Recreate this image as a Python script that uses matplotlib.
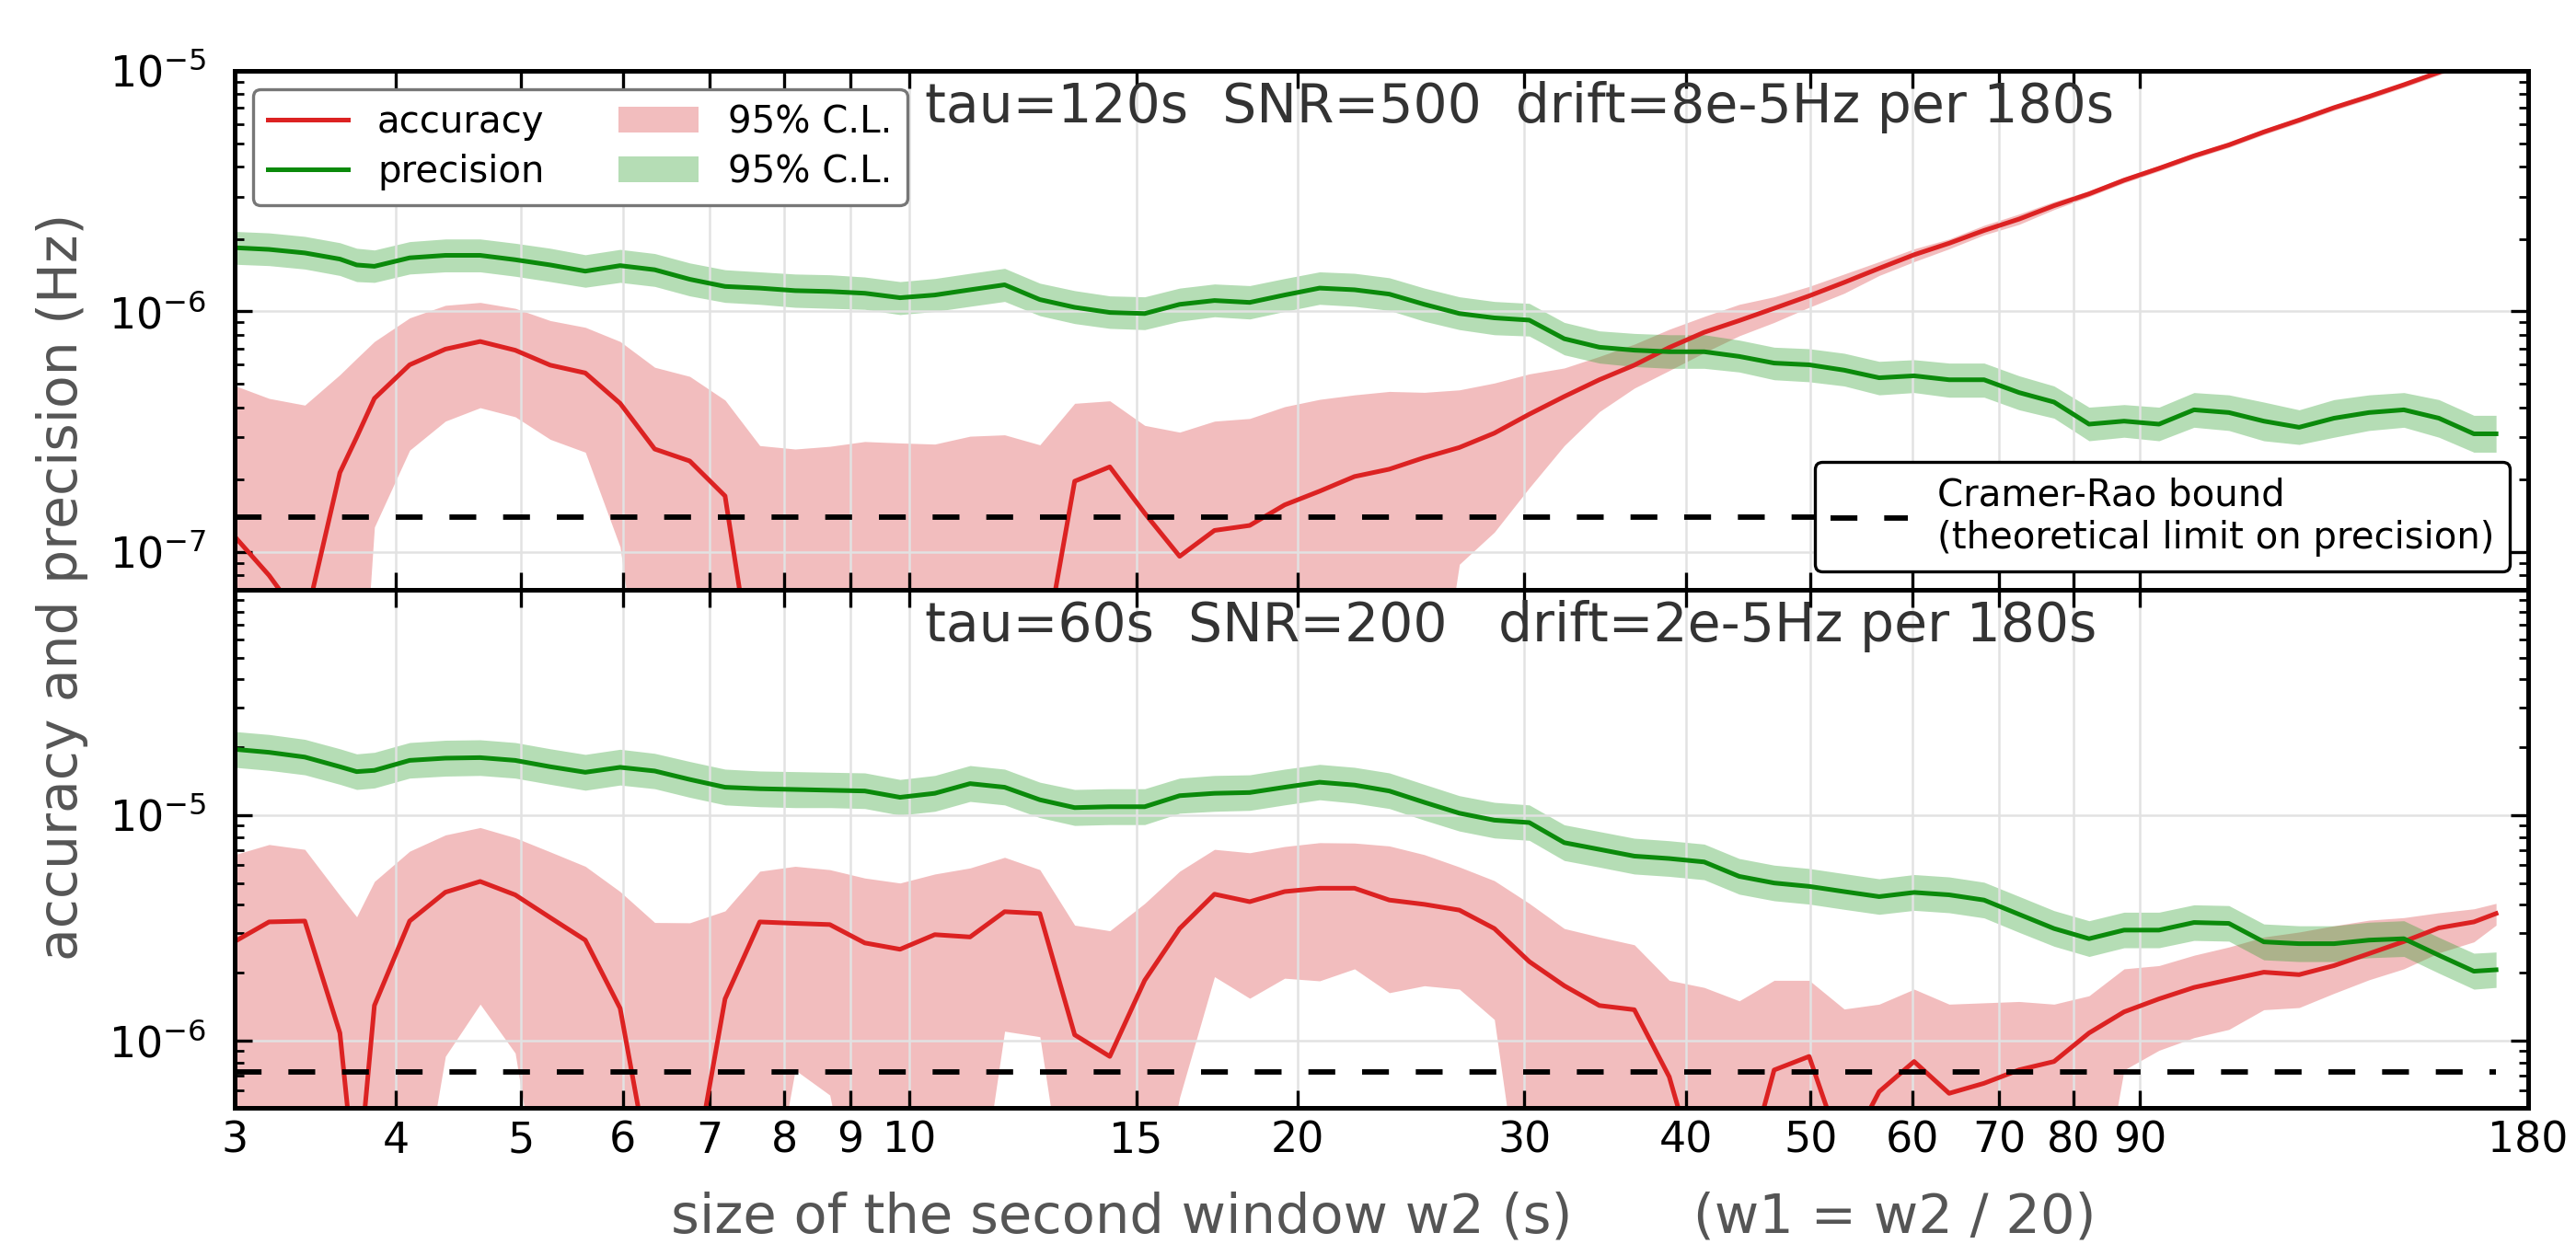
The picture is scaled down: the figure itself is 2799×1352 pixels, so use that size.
import matplotlib.pyplot as plt
from matplotlib.lines import Line2D
from matplotlib.patches import Patch
from matplotlib.ticker import FixedLocator, NullLocator, FixedFormatter

plt.rcParams['font.family'] = 'DejaVu Sans'
plt.rcParams['mathtext.fontset'] = 'dejavusans'

# size of the second window w2 (s)
w2 = [3.00, 3.19, 3.40, 3.62, 3.73, 3.85, 4.10, 4.37, 4.65, 4.95, 5.27, 5.61,
      5.97, 6.35, 6.76, 7.20, 7.66, 8.16, 8.68, 9.24, 9.84, 10.47, 11.15,
      11.86, 12.63, 13.44, 14.31, 15.23, 16.21, 17.25, 18.37, 19.55, 20.81,
      22.15, 23.57, 25.09, 26.71, 28.43, 30.26, 32.21, 34.29, 36.50, 38.85,
      41.35, 44.02, 46.85, 49.87, 53.09, 56.51, 60.15, 64.03, 68.15, 72.55,
      77.22, 82.20, 87.50, 93.13, 99.14, 105.5, 112.3, 119.6, 127.3, 135.5,
      144.2, 153.5, 163.4, 170.0]

# ---- top panel: tau=120s, SNR=500 (values in 1e-6 Hz) ----
acc_top = [0.116, 0.080, 0.050, 0.214, 0.300, 0.435, 0.600, 0.697, 0.750, 0.690,
           0.598, 0.555, 0.415, 0.268, 0.239, 0.171, 0.02, 0.02, 0.02, 0.02,
           0.02, 0.02, 0.02, 0.02, 0.03, 0.197, 0.226, 0.145, 0.096, 0.123,
           0.129, 0.157, 0.179, 0.206, 0.221, 0.247, 0.272, 0.312, 0.374, 0.443,
           0.520, 0.598, 0.708, 0.819, 0.916, 1.03, 1.16, 1.32, 1.51, 1.72,
           1.92, 2.17, 2.42, 2.75, 3.08, 3.51, 3.93, 4.43, 4.92, 5.57, 6.24,
           7.03, 7.82, 8.75, 9.86, 11.1, 12.1]
acc_top_hi = [0.492, 0.435, 0.408, 0.546, 0.638, 0.750, 0.94, 1.06, 1.09, 1.03,
              0.916, 0.859, 0.750, 0.586, 0.537, 0.428, 0.277, 0.268, 0.275,
              0.288, 0.284, 0.281, 0.303, 0.307, 0.279, 0.415, 0.425, 0.336,
              0.315, 0.350, 0.359, 0.402, 0.431, 0.450, 0.465, 0.461, 0.472,
              0.504, 0.550, 0.582, 0.650, 0.731, 0.843, 0.953, 1.07, 1.15, 1.27,
              1.43, 1.61, 1.82, 2.00, 2.28, 2.54, 2.86, 3.17, 3.61, 4.04, 4.55,
              5.05, 5.72, 6.40, 7.20, 8.00, 8.97, 10.1, 11.4, 12.4]
acc_top_lo = [0.01, 0.01, 0.01, 0.01, 0.01, 0.127, 0.265, 0.350, 0.398, 0.365,
              0.294, 0.260, 0.105, 0.01, 0.01, 0.01, 0.01, 0.01, 0.01, 0.01,
              0.01, 0.01, 0.01, 0.01, 0.01, 0.01, 0.01, 0.01, 0.01, 0.01, 0.01,
              0.01, 0.01, 0.01, 0.01, 0.01, 0.089, 0.121, 0.185, 0.277, 0.383,
              0.480, 0.568, 0.674, 0.792, 0.900, 1.04, 1.19, 1.41, 1.61, 1.82,
              2.08, 2.30, 2.65, 3.00, 3.42, 3.83, 4.32, 4.80, 5.43, 6.08, 6.85,
              7.62, 8.53, 9.60, 10.8, 11.8]
prec_top = [1.84, 1.81, 1.75, 1.65, 1.56, 1.54, 1.67, 1.71, 1.71, 1.64, 1.56,
            1.47, 1.55, 1.49, 1.36, 1.27, 1.25, 1.22, 1.21, 1.19, 1.14, 1.17,
            1.23, 1.29, 1.12, 1.04, 0.99, 0.98, 1.07, 1.11, 1.09, 1.17, 1.25,
            1.23, 1.18, 1.07, 0.98, 0.94, 0.92, 0.77, 0.71, 0.69, 0.68, 0.68,
            0.65, 0.61, 0.60, 0.57, 0.53, 0.54, 0.52, 0.52, 0.46, 0.42, 0.34,
            0.35, 0.34, 0.39, 0.38, 0.35, 0.33, 0.36, 0.38, 0.39, 0.36, 0.31,
            0.31]
prec_top_hi = [2.15, 2.12, 2.05, 1.93, 1.83, 1.80, 1.95, 2.00, 2.00, 1.92, 1.83,
               1.72, 1.81, 1.74, 1.59, 1.49, 1.46, 1.43, 1.42, 1.39, 1.33, 1.37,
               1.44, 1.51, 1.31, 1.22, 1.16, 1.15, 1.25, 1.30, 1.28, 1.37, 1.46,
               1.44, 1.38, 1.25, 1.15, 1.10, 1.08, 0.90, 0.83, 0.81, 0.80, 0.80,
               0.76, 0.71, 0.70, 0.67, 0.62, 0.63, 0.61, 0.61, 0.54, 0.49, 0.40,
               0.41, 0.40, 0.46, 0.45, 0.42, 0.39, 0.43, 0.45, 0.46, 0.43, 0.37,
               0.37]
prec_top_lo = [1.57, 1.55, 1.50, 1.41, 1.33, 1.32, 1.43, 1.46, 1.46, 1.40, 1.33,
               1.26, 1.32, 1.27, 1.16, 1.09, 1.07, 1.04, 1.03, 1.02, 0.97, 1.00,
               1.05, 1.10, 0.96, 0.89, 0.85, 0.84, 0.91, 0.95, 0.93, 1.00, 1.07,
               1.05, 1.01, 0.91, 0.84, 0.80, 0.79, 0.66, 0.61, 0.59, 0.58, 0.58,
               0.56, 0.52, 0.51, 0.49, 0.45, 0.46, 0.44, 0.44, 0.39, 0.36, 0.29,
               0.30, 0.29, 0.33, 0.32, 0.29, 0.28, 0.30, 0.32, 0.33, 0.30, 0.26,
               0.26]
cr_top = 0.14

# ---- bottom panel: tau=60s, SNR=200 (values in 1e-6 Hz) ----
acc_bot = [2.75, 3.36, 3.39, 1.08, 0.2, 1.43, 3.39, 4.55, 5.08, 4.43, 3.51, 2.79,
           1.39, 0.2, 0.2, 1.53, 3.36, 3.31, 3.27, 2.71, 2.54, 2.95, 2.88, 3.73,
           3.66, 1.06, 0.85, 1.85, 3.14, 4.46, 4.13, 4.58, 4.74, 4.74, 4.20,
           4.02, 3.79, 3.14, 2.24, 1.75, 1.43, 1.37, 0.69, 0.2, 0.2, 0.74, 0.85,
           0.3, 0.593, 0.807, 0.583, 0.646, 0.741, 0.807, 1.08, 1.34, 1.53, 1.72,
           1.86, 2.01, 1.96, 2.15, 2.43, 2.75, 3.16, 3.36, 3.66]
acc_bot_hi = [6.68, 7.41, 7.05, 4.40, 3.54, 5.08, 6.92, 8.17, 8.81, 7.94, 6.87,
              5.93, 4.58, 3.34, 3.33, 3.76, 5.64, 5.93, 5.73, 5.26, 5.00, 5.48,
              5.83, 6.50, 5.73, 3.25, 3.07, 4.06, 5.64, 7.05, 6.81, 7.26, 7.55,
              7.52, 7.30, 6.68, 5.89, 5.12, 4.06, 3.14, 2.88, 2.66, 1.85, 1.72,
              1.50, 1.85, 1.85, 1.38, 1.45, 1.69, 1.45, 1.47, 1.49, 1.45, 1.58,
              2.08, 2.15, 2.39, 2.60, 2.88, 3.03, 3.23, 3.42, 3.51, 3.69, 3.84,
              4.06]
acc_bot_lo = [0.1, 0.1, 0.1, 0.1, 0.1, 0.1, 0.1, 0.851, 1.45, 0.88, 0.1, 0.1,
              0.1, 0.1, 0.1, 0.1, 0.1, 0.74, 0.573, 0.1, 0.1, 0.1, 0.1, 1.10,
              1.04, 0.1, 0.1, 0.1, 0.56, 1.92, 1.54, 1.89, 1.84, 2.08, 1.63, 1.75,
              1.69, 1.24, 0.1, 0.1, 0.1, 0.1, 0.1, 0.1, 0.1, 0.1, 0.1, 0.1, 0.1,
              0.1, 0.1, 0.1, 0.1, 0.1, 0.1, 0.74, 0.905, 1.03, 1.12, 1.37, 1.40,
              1.62, 1.86, 2.08, 2.45, 2.74, 3.25]
prec_bot = [19.6, 19.0, 18.1, 16.4, 15.6, 15.8, 17.5, 17.9, 18.0, 17.5, 16.4,
            15.5, 16.3, 15.7, 14.4, 13.3, 13.1, 13.0, 12.9, 12.8, 12.0, 12.5,
            13.8, 13.3, 11.7, 10.8, 10.9, 10.9, 12.2, 12.5, 12.6, 13.3, 14.0,
            13.6, 12.8, 11.4, 10.2, 9.50, 9.27, 7.55, 7.05, 6.58, 6.42, 6.20,
            5.35, 5.00, 4.83, 4.58, 4.35, 4.54, 4.43, 4.20, 3.63, 3.14, 2.83,
            3.09, 3.09, 3.34, 3.31, 2.74, 2.69, 2.69, 2.79, 2.83, 2.39, 2.03,
            2.06]
prec_bot_hi = [23.5, 22.8, 21.7, 19.7, 18.7, 19.0, 21.0, 21.5, 21.6, 21.0, 19.7,
               18.6, 19.6, 18.8, 17.3, 16.0, 15.7, 15.6, 15.5, 15.4, 14.4, 15.0,
               16.6, 16.0, 14.0, 13.0, 13.1, 13.1, 14.6, 15.0, 15.1, 16.0, 16.8,
               16.3, 15.4, 13.7, 12.2, 11.4, 11.1, 9.06, 8.46, 7.90, 7.70, 7.44,
               6.42, 6.00, 5.80, 5.50, 5.22, 5.45, 5.32, 5.04, 4.36, 3.77, 3.40,
               3.71, 3.71, 4.00, 3.97, 3.29, 3.23, 3.23, 3.35, 3.40, 2.87, 2.44,
               2.47]
prec_bot_lo = [16.3, 15.8, 15.1, 13.7, 13.0, 13.2, 14.6, 14.9, 15.0, 14.6, 13.7,
               12.9, 13.6, 13.1, 12.0, 11.1, 10.9, 10.8, 10.8, 10.7, 10.0, 10.4,
               11.5, 11.1, 9.75, 9.00, 9.08, 9.08, 10.2, 10.4, 10.5, 11.1, 11.7,
               11.3, 10.7, 9.50, 8.50, 7.92, 7.73, 6.29, 5.88, 5.48, 5.35, 5.17,
               4.46, 4.17, 4.03, 3.82, 3.63, 3.78, 3.69, 3.50, 3.02, 2.62, 2.36,
               2.58, 2.58, 2.78, 2.76, 2.28, 2.24, 2.24, 2.33, 2.36, 1.99, 1.69,
               1.72]
cr_bot = 0.726

xticks = [3, 4, 5, 6, 7, 8, 9, 10, 15, 20, 30, 40, 50, 60, 70, 80, 90, 180]

RED = '#dc2222'
RED_FILL = '#d62728'
GREEN = '#0b8a0b'
GREEN_FILL = '#2ca02c'
U = 1e-6

fig = plt.figure(figsize=(13.995, 6.76), dpi=200)
ax_top = fig.add_axes([0.0911, 0.5259, 0.8903, 0.4172])
ax_bot = fig.add_axes([0.0911, 0.1095, 0.8903, 0.4164])

panels = [
    (ax_top, acc_top, acc_top_lo, acc_top_hi, prec_top, prec_top_lo, prec_top_hi,
     cr_top, (6.97e-8, 1e-5), [1e-7, 1e-6, 1e-5],
     'tau=120s  SNR=500  drift=8e-5Hz per 180s'),
    (ax_bot, acc_bot, acc_bot_lo, acc_bot_hi, prec_bot, prec_bot_lo, prec_bot_hi,
     cr_bot, (5.03e-7, 1e-4), [1e-6, 1e-5],
     'tau=60s  SNR=200   drift=2e-5Hz per 180s'),
]

for ax, acc, alo, ahi, prec, plo, phi, cr, ylim, yt, title in panels:
    ax.fill_between(w2, [v * U for v in alo], [v * U for v in ahi],
                    color=RED_FILL, alpha=0.3, lw=0)
    ax.fill_between(w2, [v * U for v in plo], [v * U for v in phi],
                    color=GREEN_FILL, alpha=0.35, lw=0)
    ax.plot(w2, [v * U for v in acc], color=RED, lw=1.8)
    ax.plot(w2, [v * U for v in prec], color=GREEN, lw=1.8)
    ax.plot([w2[0], w2[-1]], [cr * U, cr * U], color='black', lw=2.1,
            dashes=(5, 5))
    ax.set_xscale('log')
    ax.set_yscale('log')
    ax.set_xlim(3, 180)
    ax.set_ylim(*ylim)
    ax.xaxis.set_major_locator(FixedLocator(xticks))
    ax.xaxis.set_major_formatter(FixedFormatter([str(t) for t in xticks]))
    ax.xaxis.set_minor_locator(NullLocator())
    ax.yaxis.set_major_locator(FixedLocator(yt))
    ax.grid(True, which='major', color='#e2e2e2', lw=0.9)
    ax.tick_params(which='both', direction='in', top=True, right=True)
    ax.tick_params(which='major', length=7, width=1.2)
    ax.tick_params(which='minor', length=3.5, width=1.0)
    ax.tick_params(axis='y', labelsize=16.5, pad=11)
    ax.tick_params(axis='x', labelsize=16.5, pad=5)
    for s in ax.spines.values():
        s.set_linewidth(1.8)
    ax.text(0.301, 0.90, title, transform=ax.transAxes, fontsize=21,
            color='#333333', ha='left', va='baseline')

ax_top.tick_params(axis='x', labelbottom=False)

handles = [Line2D([], [], color=RED, lw=1.8),
           Line2D([], [], color=GREEN, lw=1.8),
           Patch(facecolor=RED_FILL, alpha=0.3, lw=0),
           Patch(facecolor=GREEN_FILL, alpha=0.35, lw=0)]
labels = ['accuracy', 'precision', '95% C.L.', '95% C.L.']
leg1 = ax_top.legend(handles, labels, loc='upper left', ncol=2, fontsize=14.5,
                     fancybox=True, framealpha=1, edgecolor='#777777',
                     handlelength=2.15, handletextpad=0.8, columnspacing=2.0,
                     labelspacing=0.35, borderaxespad=0.5)
leg1.get_frame().set_linewidth(1.2)
ax_top.add_artist(leg1)

cr_handle = Line2D([], [], color='black', lw=2.1, dashes=(5, 5))
leg2 = ax_top.legend([cr_handle],
                     ['Cramer-Rao bound\n(theoretical limit on precision)'],
                     loc='lower right', fontsize=14.5, fancybox=True,
                     framealpha=1, edgecolor='black', handlelength=2.1,
                     handletextpad=0.8, borderaxespad=0.5)
leg2.get_frame().set_linewidth(1.2)

fig.text(0.024, 0.528, 'accuracy and precision (Hz)', rotation=90,
         ha='center', va='center', fontsize=21, color='#555555')
fig.text(0.537, 0.0096, 'size of the second window w2 (s)       (w1 = w2 / 20)',
         ha='center', va='baseline', fontsize=21.3, color='#555555')

fig.savefig('out.png', dpi=200)
